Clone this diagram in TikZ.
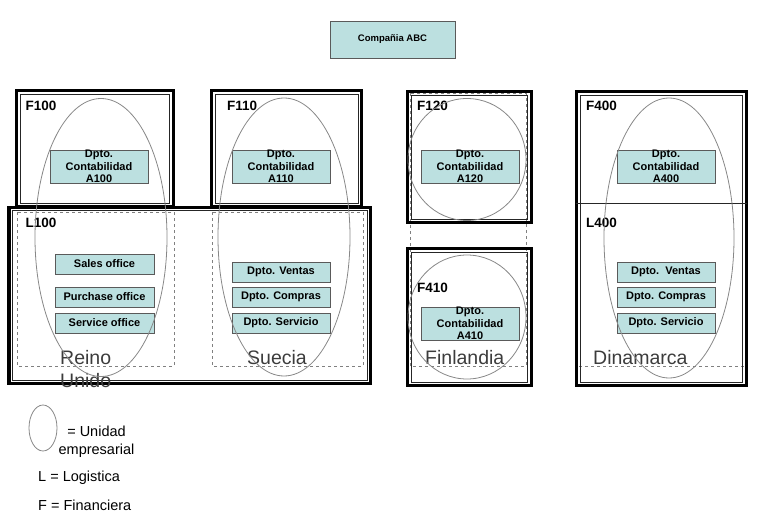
\documentclass[tikz,border=0pt]{standalone}
\usepackage{fontspec}
\setmainfont{Liberation Sans}
\definecolor{boxfill}{RGB}{188,224,224}
\definecolor{boxline}{RGB}{90,90,90}
\definecolor{unitgray}{RGB}{135,135,135}
\definecolor{countrygray}{RGB}{60,60,60}

\begin{document}
\begin{tikzpicture}[x=1pt, y=-1pt,
  deptbox/.style={draw=boxline, fill=boxfill, line width=0.6pt, inner sep=0pt, minimum width=98pt, minimum height=33pt, align=center, font=\bfseries\fontsize{11}{12.5}\selectfont},
  officebox/.style={deptbox, minimum height=20pt},
  unitlabel/.style={anchor=west, inner sep=0pt, font=\bfseries\fontsize{13.5}{15}\selectfont},
  countrylabel/.style={anchor=north west, inner sep=0pt, align=left, text=countrygray, font=\fontsize{19.5}{23}\selectfont},
  legendtext/.style={inner sep=0pt, font=\fontsize{14.5}{18}\selectfont},
  unitellipse/.style={draw=unitgray, line width=0.8pt},
  frameout/.style={draw, line width=3.4pt},
  framein/.style={draw=black!85, line width=0.9pt},
  unitdash/.style={draw=gray, dashed, line width=0.7pt}]

\useasboundingbox (0,0) rectangle (760,522);

\node (abc) [deptbox, minimum width=125pt, minimum height=37pt, font=\bfseries\fontsize{9.5}{11}\selectfont] at (392.5,39.5) {Compañia ABC};

\draw [unitdash] (17,212) rectangle (174,366);
\draw [unitdash] (212,212) rectangle (363,366);
\draw [unitdash] (410,93) rectangle (526,366);
\draw [unitdash] (579,366) -- (744,366);

\foreach \xa/\ya/\xb/\yb in {16.7/90.7/173.3/207, 211.7/90.7/361.5/207, 9/207.5/370.5/383.7, 407.7/91.7/531.3/222.5, 407.7/248.7/531.3/385.5, 576.7/91.7/746.3/385.5}
{
  \draw [frameout] (\xa,\ya) rectangle (\xb,\yb);
  \draw [framein] (\xa+3.4,\ya+3.4) rectangle (\xb-3.4,\yb-3.4);
}
\draw [framein, line width=0.6pt] (576,203) -- (747,203);

\node (a100) [deptbox] at (99,166.5) {Dpto.\\Contabilidad\\A100};
\node (a110) [deptbox] at (281,166.5) {Dpto.\\Contabilidad\\A110};
\node (a120) [deptbox] at (470,166.5) {Dpto.\\Contabilidad\\A120};
\node (a410) [deptbox] at (470,323.5) {Dpto.\\Contabilidad\\A410};
\node (a400) [deptbox] at (666,166.5) {Dpto.\\Contabilidad\\A400};

\node (sales) [officebox, minimum width=99pt] at (104.5,264) {Sales office};
\node (purchase) [officebox, minimum width=99pt] at (104.5,297) {Purchase office};
\node (service) [officebox, minimum width=99pt] at (104.5,323) {Service office};

\node (ventas110) [officebox] at (281,272) {Dpto. Ventas};
\node (compras110) [officebox] at (281,297) {Dpto. Compras};
\node (servicio110) [officebox] at (281,323) {Dpto. Servicio};

\node (ventas400) [officebox] at (666,272) {Dpto.\ \ Ventas};
\node (compras400) [officebox] at (666,297) {Dpto. Compras};
\node (servicio400) [officebox] at (666,323) {Dpto. Servicio};

\node (f100) [unitlabel] at (25.5,105.5) {F100};
\node (f110) [unitlabel] at (227,105.5) {F110};
\node (f120) [unitlabel] at (417,105.5) {F120};
\node (f410) [unitlabel] at (417,287.5) {F410};
\node (f400) [unitlabel] at (586,105.5) {F400};
\node (l100) [unitlabel] at (25.5,223) {L100};
\node (l400) [unitlabel] at (586,222.5) {L400};

\node (reino) [countrylabel] at (60,350) {Reino\\Unido};
\node (suecia) [countrylabel] at (247,350) {Suecia};
\node (finlandia) [countrylabel] at (425,350) {Finlandia};
\node (dinamarca) [countrylabel] at (593,350) {Dinamarca};

\draw [unitellipse] (101,237.5) ellipse [x radius=66pt, y radius=139pt];
\draw [unitellipse] (284,237) ellipse [x radius=66pt, y radius=139pt];
\draw [unitellipse] (467,159.5) ellipse [x radius=59pt, y radius=61pt];
\draw [unitellipse] (467,317) ellipse [x radius=59pt, y radius=62pt];
\draw [unitellipse] (669,238) ellipse [x radius=65pt, y radius=140pt];

\draw [unitellipse] (43,428) ellipse [x radius=14pt, y radius=23pt];
\node (unidad) [legendtext, align=center] at (96.5,442) {= Unidad\\empresarial};
\node (logistica) [legendtext, anchor=west] at (38,478) {L = Logistica};
\node (financiera) [legendtext, anchor=west] at (38,505) {F = Financiera};
\end{tikzpicture}
\end{document}
